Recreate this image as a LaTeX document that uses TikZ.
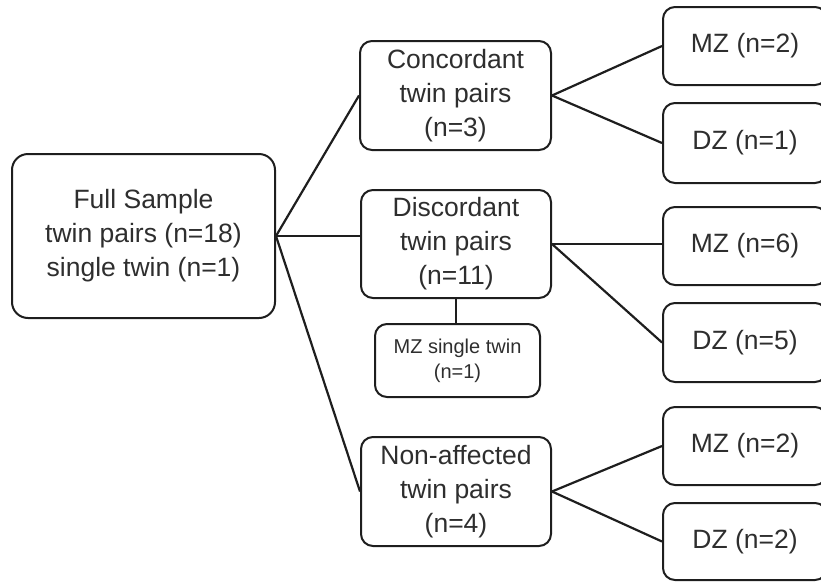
\documentclass[tikz,border=0pt]{standalone}
\usepackage{fontspec}
\setmainfont{Liberation Sans}
\definecolor{ln}{HTML}{1E1E1E}
\definecolor{tx}{HTML}{2E2E2E}
\begin{document}
\begin{tikzpicture}[x=1pt,y=-1pt,
  box/.style={draw=ln,line width=2pt,rounded corners=12pt,align=center,text=tx,
    inner sep=0pt,font=\fontsize{26.5}{34}\selectfont},
  smallbox/.style={box,font=\fontsize{20}{25}\selectfont},
  conn/.style={draw=ln,line width=2.2pt}]
\useasboundingbox (0,0) rectangle (821,581);
\clip (0,0) rectangle (821,581);
\node[box,rounded corners=16pt,minimum width=263pt,minimum height=164pt] (full) at (143.5,236) {Full Sample\\twin pairs (n=18)\\single twin (n=1)};
\node[box,minimum width=191pt,minimum height=109pt] (conc) at (455.5,95.5) {Concordant\\twin pairs\\(n=3)};
\node[box,minimum width=190pt,minimum height=108pt] (disc) at (456,244) {Discordant\\twin pairs\\(n=11)};
\node[smallbox,minimum width=165pt,minimum height=73pt] (single) at (457.5,360.5) {MZ single twin\\(n=1)};
\node[box,minimum width=190pt,minimum height=109pt] (non) at (456,491.5) {Non-affected\\twin pairs\\(n=4)};
\node[box,minimum width=164pt,minimum height=78pt] (mz1) at (745,46) {MZ (n=2)};
\node[box,minimum width=164pt,minimum height=80pt] (dz1) at (745,143) {DZ (n=1)};
\node[box,minimum width=164pt,minimum height=78pt] (mz2) at (745,246) {MZ (n=6)};
\node[box,minimum width=164pt,minimum height=79pt] (dz2) at (745,342.5) {DZ (n=5)};
\node[box,minimum width=164pt,minimum height=78pt] (mz3) at (745,446) {MZ (n=2)};
\node[box,minimum width=164pt,minimum height=77pt] (dz3) at (745,541.5) {DZ (n=2)};
\draw[conn] (full.east) -- (conc.west);
\draw[conn] (full.east) -- (full.east -| disc.west);
\draw[conn] (full.east) -- (non.west);
\draw[conn] (conc.east) -- (mz1.west);
\draw[conn] (conc.east) -- (dz1.west);
\draw[conn] (disc.east) -- (disc.east -| mz2.west);
\draw[conn] (disc.east) -- (dz2.west);
\draw[conn] (non.east) -- (mz3.west);
\draw[conn] (non.east) -- (dz3.west);
\draw[conn] (disc.south) -- (disc.south |- single.north);
\end{tikzpicture}
\end{document}
